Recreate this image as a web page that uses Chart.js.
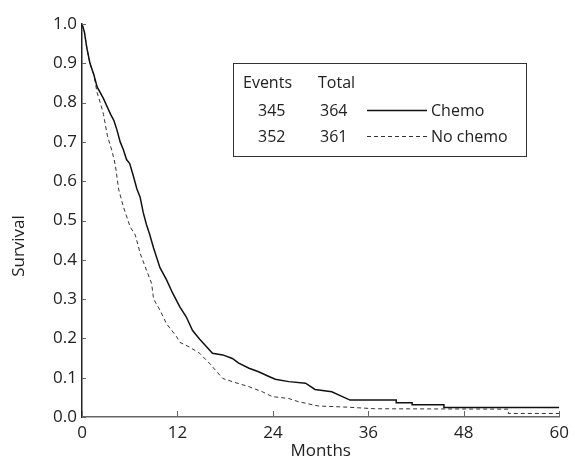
<!DOCTYPE html>
<html>
<head>
<meta charset="utf-8">
<script src="https://cdn.jsdelivr.net/npm/chart.js@4/dist/chart.umd.min.js"></script>
<style>
  html, body { margin: 0; padding: 0; background: #fff; }
  #wrap { width: 575px; height: 468px; }
</style>
</head>
<body>
<div id="wrap"><canvas id="km"></canvas></div>
<script>
// Kaplan-Meier curves (months, survival).
// Early drops are many tiny steps, so they are traced as a path;
// the visible plateaus in the tail keep their corners.
const chemoMonths = [0, 0.3, 0.6, 1.0, 1.5, 1.9, 2.7, 3.6, 4.0, 4.4, 4.8, 5.2, 5.6, 6.0, 6.5, 6.9, 7.3, 7.7, 8.1, 8.5, 9.0, 9.8, 10.6, 11.4, 12.3, 13.1, 13.9, 14.8, 16.4, 17.7, 18.9, 19.7, 21.0, 22.2, 23.5, 24.3, 26.0, 28.1, 29.3, 31.4, 32.6, 33.7, 39.5, 39.5, 41.5, 41.5, 45.5, 45.5, 60];
const chemoSurv   = [1.0, 0.98, 0.94, 0.90, 0.87, 0.84, 0.81, 0.77, 0.755, 0.73, 0.70, 0.68, 0.655, 0.645, 0.61, 0.58, 0.56, 0.52, 0.49, 0.465, 0.43, 0.38, 0.35, 0.315, 0.28, 0.255, 0.22, 0.198, 0.162, 0.158, 0.149, 0.137, 0.124, 0.115, 0.103, 0.096, 0.09, 0.086, 0.07, 0.064, 0.053, 0.043, 0.043, 0.036, 0.036, 0.031, 0.031, 0.024, 0.024];

const noChemoMonths = [0, 0.3, 0.6, 1.0, 1.5, 1.9, 2.3, 2.7, 3.2, 3.8, 4.2, 4.6, 5.2, 6.05, 6.7, 7.1, 7.3, 8.1, 8.75, 9.0, 9.8, 10.6, 11.9, 12.3, 13.5, 14.8, 16.0, 17.7, 18.9, 21.0, 22.7, 23.9, 26.0, 27.2, 29.7, 33.4, 36.8, 53.6, 53.6, 60];
const noChemoSurv   = [1.0, 0.98, 0.94, 0.90, 0.87, 0.825, 0.80, 0.77, 0.715, 0.675, 0.64, 0.58, 0.535, 0.484, 0.463, 0.433, 0.417, 0.374, 0.34, 0.30, 0.272, 0.238, 0.204, 0.19, 0.178, 0.162, 0.137, 0.098, 0.09, 0.077, 0.064, 0.052, 0.047, 0.039, 0.028, 0.025, 0.021, 0.02, 0.009, 0.009];

const groupNames = ['Chemo', 'No chemo'];
const groupEvents = [345, 352];
const groupTotals = [364, 361];

const xTicks = [0, 12, 24, 36, 48, 60];

const FONT = '"Open Sans", sans-serif';
const TEXT = '#222';

function toPoints(xs, ys) {
    return xs.map((x, i) => ({ x: x, y: ys[i] }));
}

/**
 * Inward tick marks, the y axis title and the events/total box
 */
const kmDecor = {
    id: 'kmDecor',
    afterDraw(chart) {
        const ctx = chart.ctx;
        const xs = chart.scales.x;
        const ys = chart.scales.y;
        const area = chart.chartArea;

        ctx.save();
        ctx.strokeStyle = '#666';
        ctx.lineWidth = 1;
        ys.ticks.forEach(t => {
            const py = Math.round(ys.getPixelForValue(t.value)) + 0.5;
            ctx.beginPath();
            ctx.moveTo(area.left, py);
            ctx.lineTo(area.left + 4, py);
            ctx.stroke();
        });
        xTicks.forEach(v => {
            const px = Math.round(xs.getPixelForValue(v)) + 0.5;
            ctx.beginPath();
            ctx.moveTo(px, area.bottom);
            ctx.lineTo(px, area.bottom - 6);
            ctx.stroke();
        });

        // y title sits a bit below the axis middle in the original
        ctx.fillStyle = TEXT;
        ctx.font = '17px ' + FONT;
        ctx.textAlign = 'center';
        ctx.textBaseline = 'middle';
        ctx.translate(19, 246);
        ctx.rotate(-Math.PI / 2);
        ctx.fillText('Survival', 0, 0);
        ctx.restore();

        // events / total box
        ctx.save();
        ctx.strokeStyle = '#333';
        ctx.lineWidth = 1;
        ctx.strokeRect(233.5, 63.5, 293, 93);
        ctx.fillStyle = TEXT;
        ctx.font = '16px ' + FONT;
        ctx.textAlign = 'left';
        ctx.textBaseline = 'alphabetic';
        ctx.fillText('Events', 243, 88);
        ctx.fillText('Total', 318, 88);
        const rowY = [116, 142];
        groupNames.forEach((name, i) => {
            ctx.fillText(String(groupEvents[i]), 258, rowY[i]);
            ctx.fillText(String(groupTotals[i]), 320, rowY[i]);
            ctx.fillText(name, 431, rowY[i]);
            const ds = chart.data.datasets[i];
            ctx.beginPath();
            ctx.strokeStyle = ds.borderColor;
            ctx.lineWidth = ds.borderWidth;
            ctx.setLineDash(ds.borderDash || []);
            ctx.moveTo(367, rowY[i] - 5.5);
            ctx.lineTo(427, rowY[i] - 5.5);
            ctx.stroke();
        });
        ctx.restore();
    }
};

new Chart(document.getElementById('km'), {
    type: 'line',
    data: {
        datasets: [
            {
                label: groupNames[0],
                data: toPoints(chemoMonths, chemoSurv),
                borderColor: '#111',
                borderWidth: 1.5,
                tension: 0,
                pointRadius: 0,
                fill: false
            },
            {
                label: groupNames[1],
                data: toPoints(noChemoMonths, noChemoSurv),
                borderColor: '#333',
                borderWidth: 1,
                borderDash: [4, 3],
                tension: 0,
                pointRadius: 0,
                fill: false
            }
        ]
    },
    options: {
        responsive: true,
        maintainAspectRatio: false,
        animation: false,
        layout: {
            padding: { top: 24, right: 12, left: 0, bottom: 0 }
        },
        plugins: {
            legend: { display: false },
            tooltip: { enabled: false }
        },
        scales: {
            x: {
                type: 'linear',
                min: 0,
                max: 60,
                afterFit: (scale) => { scale.height = 51; },
                afterBuildTicks: (scale) => {
                    scale.ticks = xTicks.map(v => ({ value: v }));
                },
                grid: { drawOnChartArea: false, drawTicks: false },
                border: { display: true, color: '#666', width: 1.5 },
                ticks: {
                    color: TEXT,
                    padding: 6,
                    maxRotation: 0,
                    font: { family: FONT, size: 17 }
                },
                title: {
                    display: true,
                    text: 'Months',
                    color: TEXT,
                    padding: { top: 0, bottom: 7 },
                    font: { family: FONT, size: 17 }
                }
            },
            y: {
                type: 'linear',
                min: 0,
                max: 1,
                afterFit: (scale) => { scale.width = 82; },
                grid: { drawOnChartArea: false, drawTicks: false },
                border: { display: true, color: '#222', width: 1.5 },
                ticks: {
                    stepSize: 0.1,
                    color: TEXT,
                    padding: 5,
                    font: { family: FONT, size: 17 },
                    callback: (v) => v.toFixed(1)
                }
            }
        }
    },
    plugins: [kmDecor]
});
</script>
</body>
</html>
